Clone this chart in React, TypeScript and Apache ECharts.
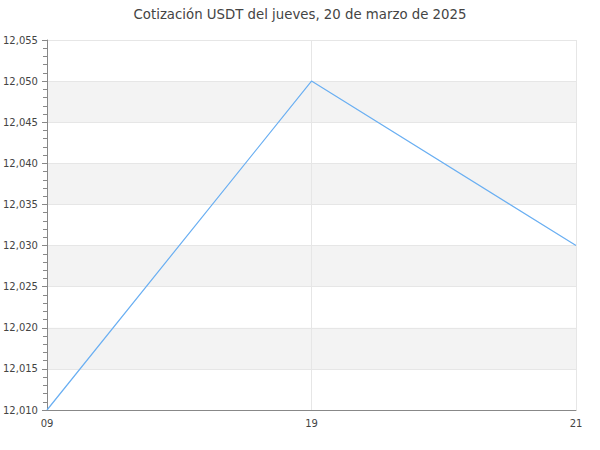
import React, { useEffect, useRef } from "react";
import * as echarts from "echarts";

const titleText = "Cotización USDT del jueves, 20 de marzo de 2025";
const categories = ["09", "19", "21"];
const values = [12.01, 12.05, 12.03];
const yMin = 12.01;
const yMax = 12.055;
const yInterval = 0.005;

export default function App() {
  const ref = useRef<HTMLDivElement>(null);
  useEffect(() => {
    if (!ref.current) return;
    const chart = echarts.init(ref.current, undefined, { renderer: "svg" });
    chart.setOption({
      animation: false,
      textStyle: { fontFamily: "DejaVu Sans" },
      title: {
        text: titleText,
        left: "center",
        top: 3,
        textStyle: { fontSize: 13.3, fontWeight: "normal", color: "#444", fontFamily: "DejaVu Sans" },
      },
      grid: { left: 45, right: 24, top: 40, bottom: 40, containLabel: false },
      xAxis: {
        type: "category",
        data: categories,
        boundaryGap: false,
        axisLine: { lineStyle: { color: "#888" } },
        axisTick: { show: false },
        axisLabel: { color: "#444", fontSize: 10, margin: 8, fontFamily: "DejaVu Sans" },
        splitLine: { show: true, lineStyle: { color: "#e6e6e6" } },
      },
      yAxis: {
        type: "value",
        min: yMin,
        max: yMax,
        interval: yInterval,
        axisLine: { show: true, lineStyle: { color: "#888" } },
        axisTick: { show: true, length: 5, lineStyle: { color: "#888" } },
        minorTick: { show: true, splitNumber: 5, length: 4, lineStyle: { color: "#888" } },
        axisLabel: {
          color: "#444",
          fontSize: 10,
          margin: 9,
          fontFamily: "DejaVu Sans",
          formatter: (v: number) => v.toFixed(3).replace(".", ","),
        },
        splitLine: { show: true, lineStyle: { color: "#e6e6e6" } },
        splitArea: { show: true, areaStyle: { color: ["rgba(255,255,255,0)", "#f3f3f3"] } },
      },
      series: [
        {
          type: "line",
          data: values,
          symbol: "none",
          lineStyle: { color: "#6aaff2", width: 1.2 },
        },
      ],
    });
    return () => chart.dispose();
  }, []);
  return <div ref={ref} style={{ position: "absolute", left: 0, top: 0, width: 600, height: 450 }} />;
}
